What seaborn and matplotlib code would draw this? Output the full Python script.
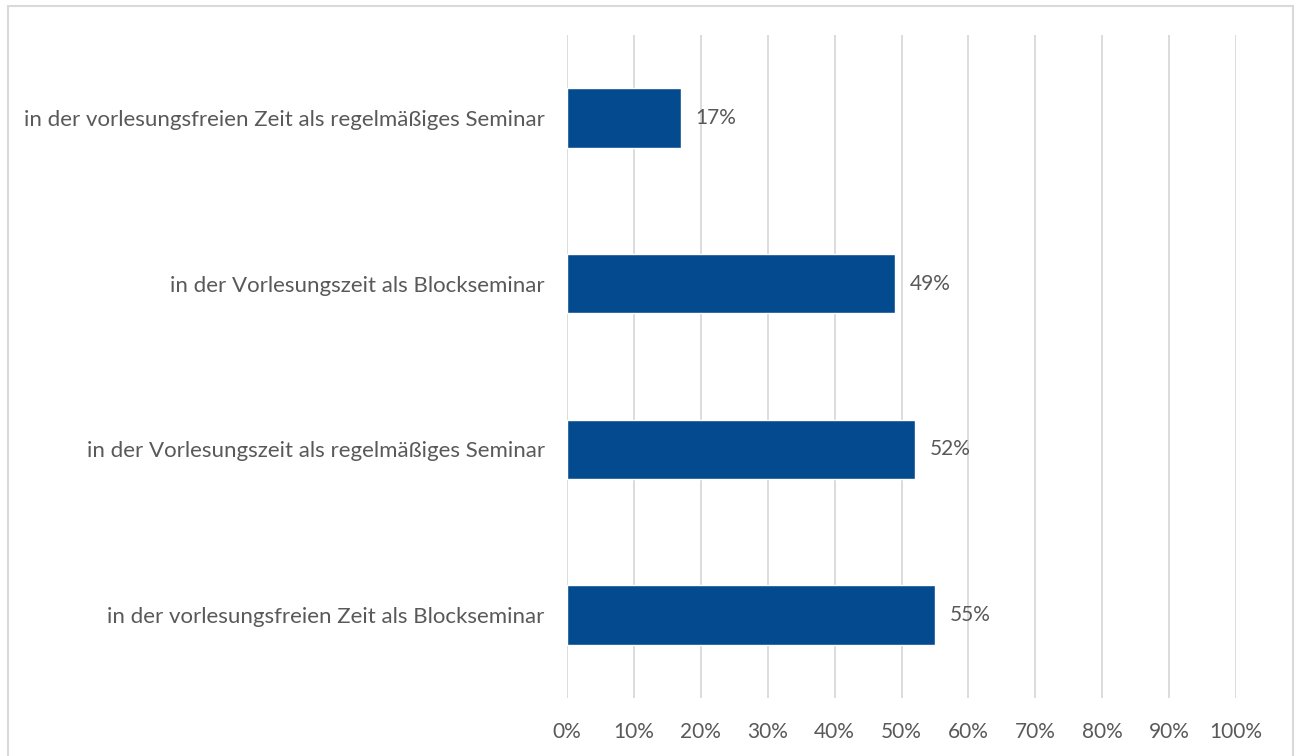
import pandas as pd
import seaborn as sns
import matplotlib.pyplot as plt
from matplotlib.patches import Rectangle

# Werte aus dem Diagramm
categories = [
    'in der vorlesungsfreien Zeit als regelmäßiges Seminar',
    'in der Vorlesungszeit als Blockseminar',
    'in der Vorlesungszeit als regelmäßiges Seminar',
    'in der vorlesungsfreien Zeit als Blockseminar',
]
values = [17, 49, 52, 55]
x_ticks = [0, 10, 20, 30, 40, 50, 60, 70, 80, 90, 100]

data = pd.DataFrame({'kategorie': categories, 'anteil': values})

sns.set_theme(style='white')
plt.rcParams['font.family'] = ['Lato', 'DejaVu Sans']
text_color = '#595959'

fig = plt.figure(figsize=(12.97, 7.56), dpi=100)
ax = fig.add_axes([567 / 1297, 1 - 698 / 756, (1236 - 567) / 1297, (698 - 35) / 756])

sns.barplot(data=data, x='anteil', y='kategorie', orient='h', color='#044A8E',
            width=0.36, saturation=1, ax=ax, zorder=3)

ax.set_xlim(0, 100)
ax.set_ylim(3.5, -0.5)
ax.set_xticks(x_ticks)
ax.set_xticklabels([f'{t}%' for t in x_ticks], fontsize=15, color=text_color)
ax.tick_params(axis='y', labelsize=16, labelcolor=text_color, pad=16, length=0)
ax.tick_params(axis='x', pad=17, length=0)
ax.set_xlabel('')
ax.set_ylabel('')
ax.grid(axis='x', color='#D9D9D9', linewidth=1.3, zorder=0)
ax.grid(axis='y', visible=False)
for s in ax.spines.values():
    s.set_visible(False)

for i, v in enumerate(values):
    ax.text(v + 2.2, i, f'{v}%', va='center', ha='left', fontsize=15, color=text_color)

# Rahmen um das Diagramm
fig.patches.append(Rectangle((7.5 / 1297, -0.1), (1293 - 7.5) / 1297, 1.1 - 5.5 / 756,
                             transform=fig.transFigure, fill=False,
                             edgecolor='#D9D9D9', linewidth=1.5))

fig.savefig('out.png', dpi=100)
